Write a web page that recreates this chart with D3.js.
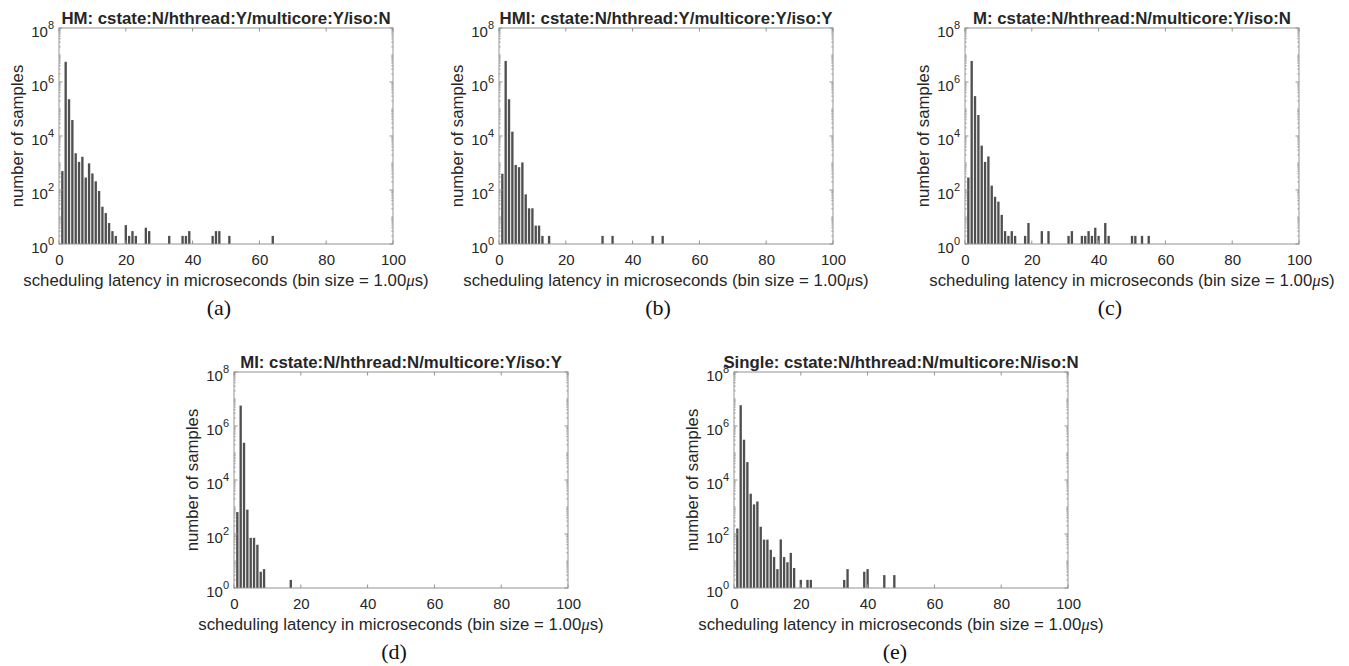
<!DOCTYPE html>
<html><head><meta charset="utf-8">
<script src="https://cdn.jsdelivr.net/npm/d3@7"></script>
<style>
body{margin:0;background:#fff;}
svg{display:block;}
</style></head>
<body><svg id="chart" width="1349" height="666"></svg>
<script>
// ---------- data ----------
const panelTitles = [
  "HM: cstate:N/hthread:Y/multicore:Y/iso:N",
  "HMI: cstate:N/hthread:Y/multicore:Y/iso:Y",
  "M: cstate:N/hthread:N/multicore:Y/iso:N",
  "MI: cstate:N/hthread:N/multicore:Y/iso:Y",
  "Single: cstate:N/hthread:N/multicore:N/iso:N"
];
const captions = ["(a)", "(b)", "(c)", "(d)", "(e)"];
const xLabel = "scheduling latency in microseconds (bin size = 1.00";
const yLabel = "number of samples";
const xTicks = [0, 20, 40, 60, 80, 100];
const yTickExponents = [0, 2, 4, 6, 8];

const latencyA = [1,2,3,4,5,6,7,8,9,10,11,12,13,14,15,16,17,20,21,22,23,26,27,33,37,38,39,46,47,48,51,64];
const countA   = [500,5.6e6,2.3e5,3.9e4,2300,1100,1700,290,970,410,210,92,24,14,6,3,2,5,2,3,2,4,3,2,2,2,3,2,3,3,2,2];

const latencyB = [1,2,3,4,5,6,7,8,9,10,11,12,13,15,31,34,46,49];
const countB   = [400,6e6,2.3e5,1.45e4,850,700,1050,69,21,21,4.8,4.8,2,2,2,2,2,2];

const latencyC = [1,2,3,4,5,6,7,8,9,10,11,12,13,14,15,18,19,23,25,31,32,35,36,37,38,39,40,42,43,50,51,53,55];
const countC   = [290,6e6,3e5,6e4,4400,1100,1750,145,56,37,12,3,2,3,2,2,6,3,3,2,3,2,2,3,2,4,2,6,2,2,2,2,2];

const latencyD = [1,2,3,4,5,6,7,8,9,17];
const countD   = [650,5.7e6,2.4e5,800,72,72,40,4,5,2];

const latencyE = [1,2,3,4,5,6,7,8,9,10,11,12,13,14,15,16,17,18,20,22,23,33,34,39,40,45,48];
const countE   = [160,5.9e6,3.1e5,4.6e4,3100,1250,1600,185,62,62,26,14,5,63,14,9,20,5.5,2,2,2,2,5,4,5,3,3];

const latencies = [latencyA, latencyB, latencyC, latencyD, latencyE];
const counts = [countA, countB, countC, countD, countE];

// ---------- layout ----------
const plotW = 334, plotH = 216;
const panelPos = [[59,28],[499,28],[965,28],[234,372],[734,372]];
const captionShift = [-7,-8,-22,-7,-6];

const textColor = "#262626";
const axisColor = "#939393";
const barColor = "#4f4f4f";
const sans = "Liberation Sans, Arial, sans-serif";

const svg = d3.select("#chart");

panelPos.forEach((pos, i) => {
  const g = svg.append("g").attr("transform", `translate(${pos[0]},${pos[1]})`);
  const x = d3.scaleLinear().domain([0, 100]).range([0, plotW]);
  const y = d3.scaleLog().domain([1, 1e8]).range([plotH, 0]);
  const data = latencies[i].map((v, k) => ({v, c: counts[i][k]}));
  const bw = (x(1) - x(0)) * 0.7;

  // bars
  g.append("g").selectAll("rect").data(data).join("rect")
    .attr("x", d => x(d.v) - bw / 2)
    .attr("width", bw)
    .attr("y", d => y(d.c))
    .attr("height", d => plotH - y(d.c))
    .attr("fill", barColor);

  // box
  g.append("rect").attr("width", plotW).attr("height", plotH)
    .attr("fill", "none").attr("stroke", axisColor).attr("stroke-width", 1);

  // x axis (bottom + top ticks inward)
  const xa = g.append("g").attr("transform", `translate(0,${plotH})`)
    .call(d3.axisBottom(x).tickValues(xTicks).tickSize(0).tickPadding(10).tickFormat(d3.format("d")));
  xa.select(".domain").remove();
  xa.selectAll("text").attr("fill", textColor).attr("font-size", "15px")
    .attr("font-family", sans);
  g.append("g").selectAll("line").data(xTicks).join("line")
    .attr("x1", d => x(d)).attr("x2", d => x(d)).attr("y1", plotH).attr("y2", plotH - 3.5)
    .attr("stroke", axisColor);
  g.append("g").selectAll("line").data(xTicks).join("line")
    .attr("x1", d => x(d)).attr("x2", d => x(d)).attr("y1", 0).attr("y2", 3.5)
    .attr("stroke", axisColor);

  // y ticks: major at even decades, minor elsewhere
  const minor = [];
  for (let e = 0; e < 8; e++) for (let m = 1; m <= 9; m++) {
    const val = m * Math.pow(10, e);
    if (m === 1 && e % 2 === 0) continue;
    minor.push(val);
  }
  const major = yTickExponents.map(e => Math.pow(10, e));
  [0, plotW].forEach(side => {
    const dir = side === 0 ? 1 : -1;
    g.append("g").selectAll("line").data(major).join("line")
      .attr("x1", side).attr("x2", side + dir * 3.5)
      .attr("y1", d => y(d)).attr("y2", d => y(d)).attr("stroke", axisColor);
    g.append("g").selectAll("line").data(minor).join("line")
      .attr("x1", side).attr("x2", side + dir * 1.8)
      .attr("y1", d => y(d)).attr("y2", d => y(d)).attr("stroke", axisColor).attr("stroke-width", 0.8);
  });

  // y tick labels 10^n
  const yl = g.append("g").selectAll("text").data(yTickExponents).join("text")
    .attr("x", -5).attr("y", e => y(Math.pow(10, e)) + 9)
    .attr("text-anchor", "end").attr("fill", textColor)
    .attr("font-family", sans).attr("font-size", "15px");
  yl.append("tspan").text("10");
  yl.append("tspan").attr("dy", -8).attr("font-size", "11px").text(e => e);

  // title
  g.append("text").attr("x", plotW / 2).attr("y", -4).attr("text-anchor", "middle")
    .attr("fill", textColor).attr("font-weight", "bold")
    .attr("font-family", sans).attr("font-size", "16.8px")
    .text(panelTitles[i]);

  // x label
  const xl = g.append("text").attr("x", plotW / 2).attr("y", plotH + 42).attr("text-anchor", "middle")
    .attr("fill", textColor)
    .attr("font-family", sans).attr("font-size", "16.8px");
  xl.append("tspan").text(xLabel);
  xl.append("tspan").attr("font-family", "Liberation Serif, Times New Roman, serif").attr("font-style", "italic").text("\u03bc");
  xl.append("tspan").text("s)");

  // y label
  g.append("text").attr("transform", `translate(-36,${plotH / 2}) rotate(-90)`)
    .attr("text-anchor", "middle").attr("fill", textColor)
    .attr("font-family", sans).attr("font-size", "16.8px")
    .text(yLabel);

  // caption
  g.append("text").attr("x", plotW / 2 + captionShift[i]).attr("y", plotH + 71)
    .attr("text-anchor", "middle").attr("fill", "#111")
    .attr("font-family", "Liberation Serif, Times New Roman, serif").attr("font-size", "22px")
    .text(captions[i]);
});
</script>
</body></html>
